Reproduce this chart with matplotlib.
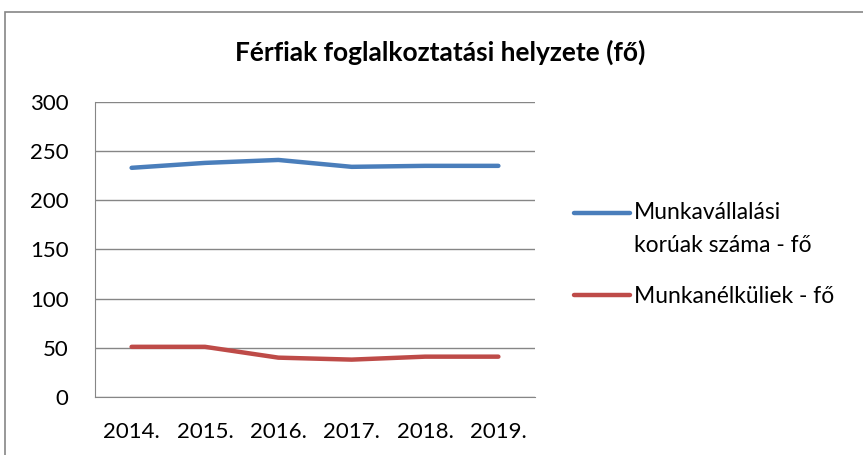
import matplotlib
matplotlib.use('Agg')
import matplotlib.pyplot as plt
from matplotlib.patches import Rectangle

plt.rcParams['font.family'] = ['Lato', 'DejaVu Sans']

years = ['2014.', '2015.', '2016.', '2017.', '2018.', '2019.']
munkavallalasi = [233, 238, 241, 234, 235, 235]
munkanelkuliek = [51, 51, 40, 38, 41, 41]
labels = ['Munkavállalási\nkorúak száma - fő', 'Munkanélküliek - fő']
title = 'Férfiak foglalkoztatási helyzete (fő)'

fig = plt.figure(figsize=(8.63, 4.55), dpi=100)
ax = fig.add_axes([0.110, 0.1275, 0.510, 0.6485])

x = range(len(years))
ax.plot(x, munkavallalasi, color='#4A7EBB', lw=3.2, solid_capstyle='round', label=labels[0])
ax.plot(x, munkanelkuliek, color='#BE4B48', lw=3.2, solid_capstyle='round', label=labels[1])

ax.set_xlim(-0.5, len(years) - 0.5)
ax.set_ylim(0, 300)
ax.set_yticks(range(0, 301, 50))
ax.set_xticks(list(x))
ax.set_xticklabels(years)
ax.yaxis.grid(True, color='#868686', lw=1)
ax.set_axisbelow(True)
for s in ['top', 'right']:
    ax.spines[s].set_visible(False)
for s in ['left', 'bottom']:
    ax.spines[s].set_color('#868686')
ax.tick_params(length=0, labelsize=16)
ax.tick_params(axis='x', pad=18)
ax.tick_params(axis='y', pad=19)

fig.text(0.51, 0.885, title, ha='center', va='center', fontsize=19, fontweight='bold')

leg = ax.legend(loc='upper left', bbox_to_anchor=(574 / 863, 1 - 202 / 455),
                bbox_transform=fig.transFigure, frameon=False,
                fontsize=16.5, handlelength=2.45, handletextpad=0.15,
                labelspacing=1.3, borderaxespad=0, borderpad=0)
for t in leg.get_texts():
    t.set_linespacing(1.72)
# put the first handle level with the first text line
h = leg.legend_handles[0]
h.set_ydata([yy + 12.2 for yy in h.get_ydata()])

# outer chart border
fig.patches.append(Rectangle((5 / 863, -0.05), 1.0, 1 - 12 / 455 + 0.05,
                             transform=fig.transFigure, fill=False,
                             edgecolor='#868686', lw=1.2, clip_on=False))

fig.savefig('out.png', dpi=100)
